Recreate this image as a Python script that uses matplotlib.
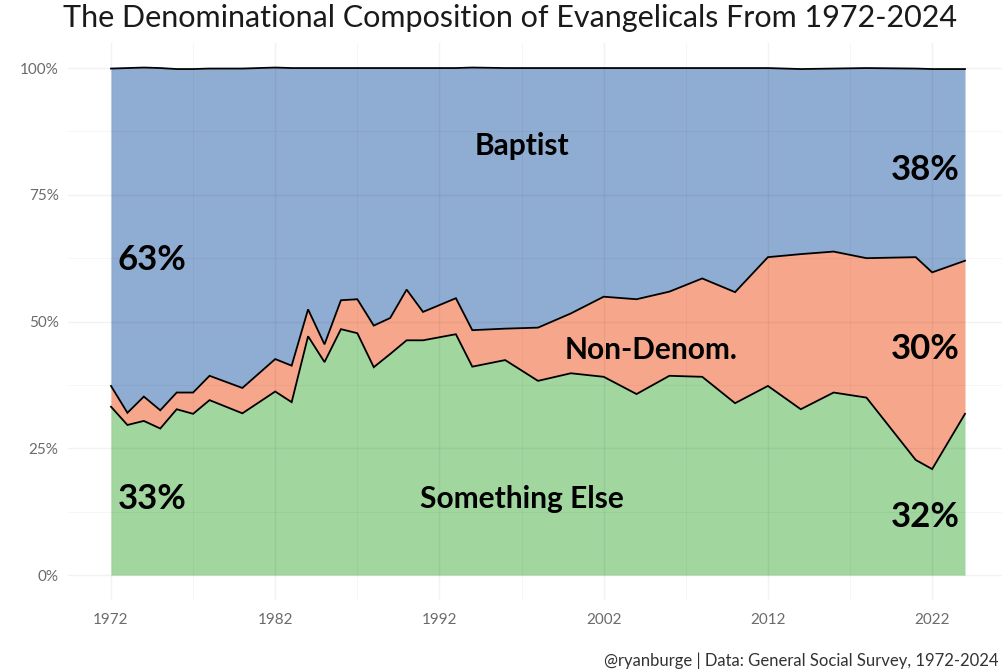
import matplotlib
matplotlib.use("Agg")
import matplotlib.pyplot as plt
import numpy as np

years = [1972, 1973, 1974, 1975, 1976, 1977, 1978, 1980, 1982, 1983, 1984, 1985,
         1986, 1987, 1988, 1989, 1990, 1991, 1993, 1994, 1996, 1998, 2000, 2002,
         2004, 2006, 2008, 2010, 2012, 2014, 2016, 2018, 2021, 2022, 2024]
something_else = [33.2, 29.6, 30.4, 28.9, 32.7, 31.8, 34.5, 31.9, 36.2, 34.1, 47.1, 42.0,
                  48.5, 47.7, 41.0, 43.6, 46.3, 46.3, 47.5, 41.1, 42.4, 38.3, 39.8, 39.1,
                  35.7, 39.3, 39.1, 33.9, 37.3, 32.7, 36.0, 35.0, 22.7, 20.9, 31.8]
non_denom = [4.1, 2.4, 4.8, 3.6, 3.3, 4.2, 4.8, 5.0, 6.4, 7.2, 5.3, 3.5,
             5.7, 6.7, 8.2, 7.1, 10.0, 5.6, 7.1, 7.2, 6.2, 10.5, 11.8, 15.8,
             18.7, 16.6, 19.4, 21.9, 25.4, 30.6, 27.8, 27.5, 40.0, 38.8, 30.2]
baptist = [62.6, 68.0, 64.9, 67.5, 63.8, 63.8, 60.6, 63.0, 57.5, 58.7, 47.6, 54.5,
           45.8, 45.6, 50.8, 49.3, 43.7, 48.1, 45.4, 51.8, 51.4, 51.2, 48.4, 45.1,
           45.6, 44.1, 41.5, 44.2, 37.3, 36.5, 36.1, 37.5, 37.2, 40.1, 37.8]

series_names = ["Something Else", "Non-Denom.", "Baptist"]
colors = ["#A1D69F", "#F6A68B", "#8FACD2"]

W, H = 1002, 670
fig = plt.figure(figsize=(W / 100, H / 100), dpi=100)

left_px, right_px, top_px, bot_px = 68.3, 1007.7, 42.7, 600.4
ax = fig.add_axes([left_px / W, 1 - bot_px / H, (right_px - left_px) / W, (bot_px - top_px) / H])

x = np.array(years)
s1 = np.array(something_else)
s2 = s1 + np.array(non_denom)
s3 = s2 + np.array(baptist)

ax.fill_between(x, 0, s1, color=colors[0], lw=0, zorder=1)
ax.fill_between(x, s1, s2, color=colors[1], lw=0, zorder=1)
ax.fill_between(x, s2, s3, color=colors[2], lw=0, zorder=1)
for yy in (s1, s2, s3):
    ax.plot(x, yy, color="black", lw=1.3, zorder=3, solid_joinstyle="miter")

ax.set_xlim(1969.4, 2026.6)
ax.set_ylim(-5, 105)

major_x = [1972, 1982, 1992, 2002, 2012, 2022]
ax.set_xticks(major_x)
ax.set_xticks([1977, 1987, 1997, 2007, 2017], minor=True)
ax.set_yticks([0, 25, 50, 75, 100])
ax.set_yticks([12.5, 37.5, 62.5, 87.5], minor=True)
ax.set_yticklabels(["0%", "25%", "50%", "75%", "100%"])

ax.grid(True, which="major", color="black", alpha=0.05, lw=1.0, zorder=2)
ax.grid(True, which="minor", color="black", alpha=0.035, lw=0.8, zorder=2)
ax.set_axisbelow(False)
for sp in ax.spines.values():
    sp.set_visible(False)
ax.tick_params(which="both", length=0)

fam = ["Lato", "DejaVu Sans"]
for lab in ax.get_xticklabels() + ax.get_yticklabels():
    lab.set_fontfamily(fam)
    lab.set_fontsize(11)
    lab.set_color("#6b6b6b")
ax.tick_params(axis="x", pad=9)
ax.tick_params(axis="y", pad=7)

lab_kw = dict(family=fam, weight="bold", color="black", ha="center", va="center", zorder=5)
ax.text(1997.0, 84.6, "Baptist", fontsize=21.5, **lab_kw)
ax.text(2004.9, 44.4, "Non-Denom.", fontsize=21.5, **lab_kw)
ax.text(1997.0, 15.0, "Something Else", fontsize=21.5, **lab_kw)
ax.text(1974.5, 62.2, "63%", fontsize=25, **lab_kw)
ax.text(1974.5, 15.0, "33%", fontsize=25, **lab_kw)
ax.text(2021.6, 79.8, "38%", fontsize=25, **lab_kw)
ax.text(2021.6, 44.6, "30%", fontsize=25, **lab_kw)
ax.text(2021.6, 11.5, "32%", fontsize=25, **lab_kw)

fig.text(510 / W, 1 - 18 / H, "The Denominational Composition of Evangelicals From 1972-2024",
         family=fam, weight="normal", fontsize=22, color="#1a1a1a", ha="center", va="center")
fig.text(998 / W, 1 - 661 / H, "@ryanburge | Data: General Social Survey, 1972-2024",
         family=fam, fontsize=12, color="#333333", ha="right", va="center")

fig.savefig("out.png", dpi=100)
